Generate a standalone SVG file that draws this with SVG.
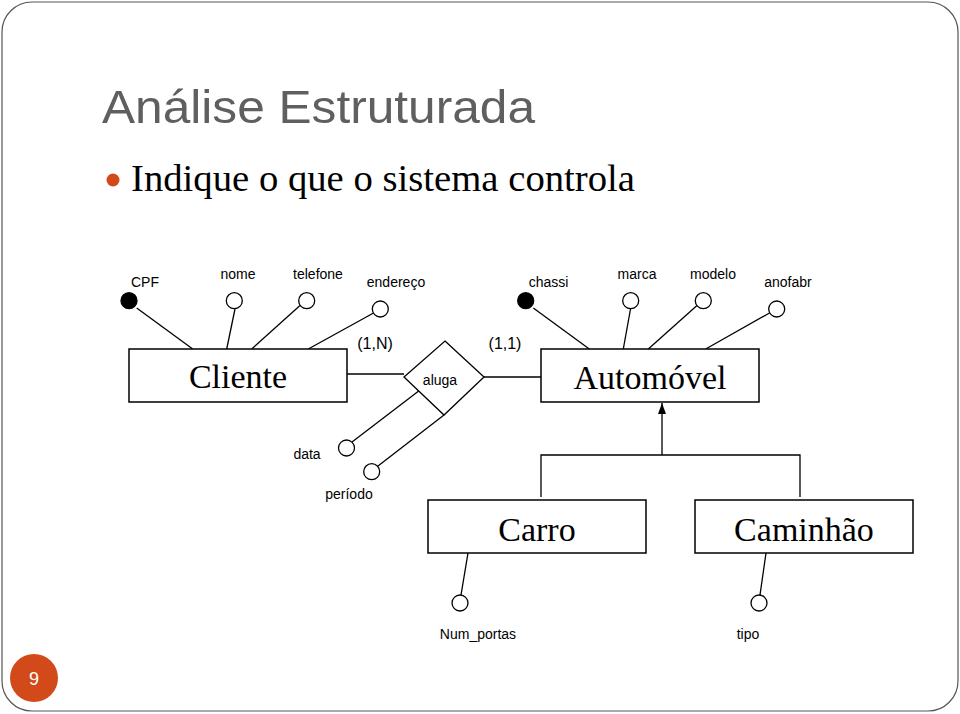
<svg xmlns="http://www.w3.org/2000/svg" width="960" height="714" viewBox="0 0 960 714">
<style>
.lbl{font-family:"Liberation Sans",Arial,sans-serif;font-size:14px;fill:#000;text-anchor:middle}
.card{font-family:"Liberation Sans",Arial,sans-serif;font-size:16px;fill:#000;text-anchor:middle}
.ent{font-family:"Liberation Serif","Times New Roman",serif;font-size:34px;fill:#000;text-anchor:middle}
.box{fill:#fff;stroke:#000;stroke-width:1.5}
.ln{stroke:#000;stroke-width:1.3;fill:none}
.att{fill:#fff;stroke:#000;stroke-width:1.3}
.key{fill:#000;stroke:#000;stroke-width:1.3}
</style>
<defs>
<marker id="arr" markerWidth="12" markerHeight="10" refX="11" refY="5" orient="auto" markerUnits="userSpaceOnUse" viewBox="0 0 12 10">
<path d="M0,1 L11,5 L0,9 Z" fill="#000"/>
</marker>
</defs>
<rect x="2" y="2" width="956" height="709" rx="30" ry="30" fill="#fff" stroke="#555" stroke-width="1.2"/>
<g id="title">
<text x="102" y="123" font-family="'Liberation Sans',Arial,sans-serif" font-size="47" fill="#5f5f5f" textLength="433" lengthAdjust="spacingAndGlyphs">Análise Estruturada</text>
</g>
<g id="bullet">
<circle cx="113" cy="180" r="6.5" fill="#d24a1a"/>
<text x="131" y="191" font-family="'Liberation Serif','Times New Roman',serif" font-size="37" fill="#000" textLength="504" lengthAdjust="spacingAndGlyphs">Indique o que o sistema controla</text>
</g>
<g id="connectors">
<line class="ln" x1="136.7" y1="308" x2="192.7" y2="349"/>
<line class="ln" x1="235" y1="309" x2="226.7" y2="349"/>
<line class="ln" x1="300" y1="305.5" x2="251.7" y2="349"/>
<line class="ln" x1="373.5" y1="313" x2="308.3" y2="349"/>
<line class="ln" x1="533.3" y1="308" x2="589.3" y2="349"/>
<line class="ln" x1="630.5" y1="309" x2="623.3" y2="349"/>
<line class="ln" x1="697" y1="305.5" x2="648.3" y2="349"/>
<line class="ln" x1="769.5" y1="313" x2="705.7" y2="349"/>
<line class="ln" x1="347" y1="374" x2="404" y2="374"/>
<line class="ln" x1="484" y1="377" x2="541" y2="377"/>
<line class="ln" x1="352" y1="442" x2="420" y2="390"/>
<line class="ln" x1="378" y1="466" x2="444" y2="415"/>
<line class="ln" x1="662" y1="455" x2="662" y2="403" marker-end="url(#arr)"/>
<polyline class="ln" points="541,497 541,455 800,455 800,497"/>
<line class="ln" x1="468" y1="553" x2="461" y2="595"/>
<line class="ln" x1="766" y1="553" x2="760" y2="595"/>
</g>
<g id="cliente">
<rect class="box" x="129" y="349" width="218" height="53"/>
<text class="ent" x="238" y="388">Cliente</text>
</g>
<g id="automovel">
<rect class="box" x="541" y="349" width="218" height="53"/>
<text class="ent" x="650" y="389">Automóvel</text>
</g>
<g id="aluga">
<polygon class="box" points="445,341 484,377 444,415 404,377" style="stroke-width:1.3"/>
<text class="lbl" x="440" y="385">aluga</text>
</g>
<g id="carro">
<rect class="box" x="428" y="500" width="218" height="53"/>
<text class="ent" x="537" y="541">Carro</text>
</g>
<g id="caminhao">
<rect class="box" x="695" y="500" width="218" height="53"/>
<text class="ent" x="804" y="541">Caminhão</text>
</g>
<g id="attr-cpf"><circle class="key" cx="129" cy="300.7" r="8"/><text class="lbl" x="145" y="287">CPF</text></g>
<g id="attr-nome"><circle class="att" cx="234.3" cy="300.7" r="8"/><text class="lbl" x="238" y="279">nome</text></g>
<g id="attr-telefone"><circle class="att" cx="306.7" cy="300.7" r="8"/><text class="lbl" x="318" y="279">telefone</text></g>
<g id="attr-endereco"><circle class="att" cx="380.3" cy="309" r="8"/><text class="lbl" x="396" y="287">endereço</text></g>
<g id="attr-chassi"><circle class="key" cx="525.7" cy="300.7" r="8"/><text class="lbl" x="548.5" y="287">chassi</text></g>
<g id="attr-marca"><circle class="att" cx="630.7" cy="300.7" r="8"/><text class="lbl" x="637" y="279">marca</text></g>
<g id="attr-modelo"><circle class="att" cx="703.3" cy="300.7" r="8"/><text class="lbl" x="713" y="279">modelo</text></g>
<g id="attr-anofabr"><circle class="att" cx="776.7" cy="309" r="8"/><text class="lbl" x="788" y="287">anofabr</text></g>
<g id="card-1n"><text class="card" x="375" y="349">(1,N)</text></g>
<g id="card-11"><text class="card" x="505" y="349">(1,1)</text></g>
<g id="attr-data"><circle class="att" cx="346.5" cy="448" r="8"/><text class="lbl" x="307" y="459">data</text></g>
<g id="attr-periodo"><circle class="att" cx="371.7" cy="471.7" r="8"/><text class="lbl" x="349" y="499">período</text></g>
<g id="attr-numportas"><circle class="att" cx="460" cy="603" r="8"/><text class="lbl" x="478" y="639">Num_portas</text></g>
<g id="attr-tipo"><circle class="att" cx="759" cy="603" r="8"/><text class="lbl" x="748" y="639">tipo</text></g>
<g id="slide-number">
<circle cx="34" cy="678" r="24" fill="#d24a1a"/>
<text x="34" y="685" font-family="'Liberation Sans',Arial,sans-serif" font-size="18" fill="#fff" text-anchor="middle">9</text>
</g>
</svg>
